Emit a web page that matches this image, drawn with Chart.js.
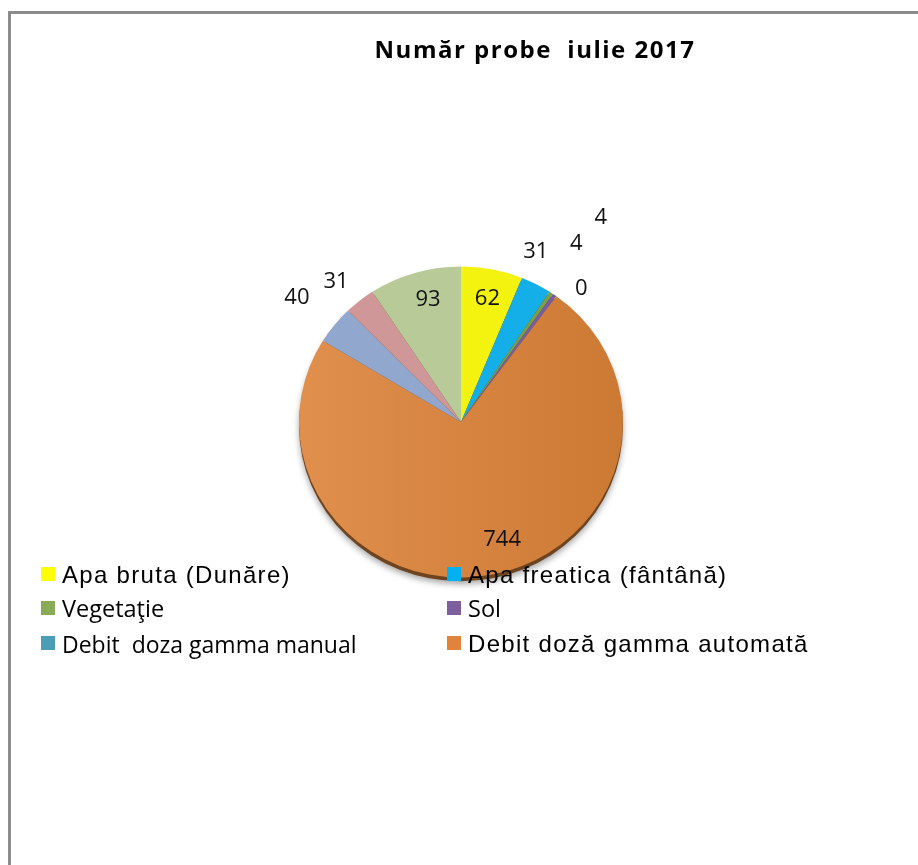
<!DOCTYPE html>
<html>
<head>
<meta charset="utf-8">
<script src="https://cdn.jsdelivr.net/npm/chart.js@4.4.0/dist/chart.umd.min.js"></script>
<style>
  html, body { margin: 0; padding: 0; background: #fff; }
  #wrap { position: relative; width: 918px; height: 865px; overflow: hidden; }
  #frame { position: absolute; left: 8px; top: 11px; width: 940px; height: 900px;
           border-top: 3px solid #8c8c8c; border-left: 3px solid #8c8c8c; }
  #c { position: absolute; left: 0; top: 0; }
  #title { position: absolute; left: 0; width: 1070px; top: 32px; text-align: center;
           font: bold 24px "Open Sans", sans-serif; letter-spacing: 1.5px; color: #000; white-space: pre; }
  .lg { position: absolute; white-space: pre; color: #000; line-height: 1; }
  .lg i { position: absolute; width: 14px; height: 14px; }
</style>
</head>
<body>
<div id="wrap">
  <div id="frame"></div>
  <canvas id="c" width="918" height="865"></canvas>
  <div id="title">Număr probe  iulie 2017</div>
  <div id="legend"></div>
</div>
<script>
// Număr probe - iulie 2017
// ========================

var categories = [
    'Apa bruta (Dunăre)'
    , 'Apa freatica (fântână)'
    , 'Vegetaţie'
    , 'Sol'
    , 'Debit  doza gamma manual'
    , 'Debit doză gamma automată'
    , 'Aer'
    , 'Depuneri'
    , 'Alimente'
];
var values = [62, 31, 4, 4, 0, 744, 40, 31, 93];
var colors = ['#f4f20f', '#14aee8', '#7aa046', '#765ca0', '#3c96af', '#d6823c', '#91a7ce', '#cf9797', '#b7ca98'];

// only the first six entries show up in the legend
var legendCount = 6;

// label placement: [radius factor, angle shift in degrees]
var labelPlace = [[0.78, 1], [1.15, -4], [1.31, -1], [1.53, -1], [1.11, 6], [0.77, -8], [1.27, -1.5], [1.16, -3], [0.78, 1.5]];

// pie is seen a bit from above, so squash it vertically
var tilt = 0.96;

var pieTilt = {
    id: 'pieTilt'
    , beforeDatasetsDraw: function (chart) {
        var arc = chart.getDatasetMeta(0).data[0];
        if (!arc) return;
        var p = arc.getProps(['x', 'y', 'outerRadius'], true);
        var ctx = chart.ctx;
        ctx.save();
        ctx.translate(p.x, p.y);
        ctx.scale(1, tilt);
        ctx.translate(-p.x, -p.y);

        // dark rim under the pie
        ctx.save();
        ctx.shadowColor = 'rgba(0,0,0,0.35)';
        ctx.shadowBlur = 6;
        ctx.shadowOffsetY = 3;
        ctx.beginPath();
        ctx.arc(p.x, p.y + 4, p.outerRadius, 0, Math.PI * 2);
        ctx.fillStyle = '#6e4420';
        ctx.fill();
        ctx.restore();
    }
    , afterDatasetsDraw: function (chart) {
        chart.ctx.restore();
    }
};

var sliceLabels = {
    id: 'sliceLabels'
    , afterDraw: function (chart) {
        var ctx = chart.ctx;
        var meta = chart.getDatasetMeta(0);
        ctx.save();
        ctx.font = '22px "Open Sans", sans-serif';
        ctx.fillStyle = '#111';
        ctx.textAlign = 'center';
        ctx.textBaseline = 'middle';
        meta.data.forEach(function (arc, i) {
            var p = arc.getProps(['x', 'y', 'startAngle', 'endAngle', 'outerRadius'], true);
            var mid = (p.startAngle + p.endAngle) / 2 + labelPlace[i][1] * Math.PI / 180;
            var r = p.outerRadius * labelPlace[i][0];
            ctx.fillText(String(values[i]), p.x + r * Math.cos(mid), p.y + r * Math.sin(mid));
        });
        ctx.restore();
    }
};

var ctx = document.getElementById('c').getContext('2d');

function sliceColor(c) {
    var i = c.dataIndex;
    if (i !== 5 || !c.chart.chartArea) return colors[i];
    var a = c.chart.chartArea;
    var g = c.chart.ctx.createLinearGradient(a.left, 0, a.right, 0);
    g.addColorStop(0, '#e08f4d');
    g.addColorStop(1, '#cc7933');
    return g;
}

new Chart(ctx, {
    type: 'pie'
    , data: {
        labels: categories
        , datasets: [{
            data: values
            , backgroundColor: sliceColor
            , borderWidth: 0
        }]
    }
    , options: {
        responsive: false
        , animation: false
        , devicePixelRatio: 1
        , layout: { padding: { left: 299, right: 295, top: 260, bottom: 281 } }
        , plugins: {
            legend: { display: false }
            , title: { display: false }
            , tooltip: { enabled: false }
        }
    }
    , plugins: [pieTilt, sliceLabels]
});

// legend, two columns
var arialFont = '24px "Liberation Sans", Arial, sans-serif;letter-spacing:1.3px';
var openFont = '23.5px "Open Sans", sans-serif';
var openSmall = '23px "Open Sans", sans-serif';
var legendSpots = [
    { x: 41, y: 561, f: arialFont, m: 6 }
    , { x: 447, y: 561, f: arialFont, m: 6 }
    , { x: 41, y: 592, f: openFont, m: 9 }
    , { x: 447, y: 592, f: openFont, m: 9 }
    , { x: 41, y: 628, f: openSmall, m: 8 }
    , { x: 447, y: 630, f: arialFont, m: 6 }
];
var legendColors = ['#ffff00', '#00b0f0', '#8aab55', '#7c5f9e', '#4a9fb6', '#e0843b'];
var html = '';
for (var i = 0; i < legendCount; i++) {
    var s = legendSpots[i];
    html += '<div class="lg" style="left:' + (s.x + 21) + 'px;top:' + s.y + 'px;font:' + s.f.replace(/"/g, "'") + '">'
        + '<i style="left:-21px;top:' + s.m + 'px;background:' + legendColors[i] + '"></i>' + categories[i] + '</div>';
}
document.getElementById('legend').innerHTML = html;
</script>
</body>
</html>
